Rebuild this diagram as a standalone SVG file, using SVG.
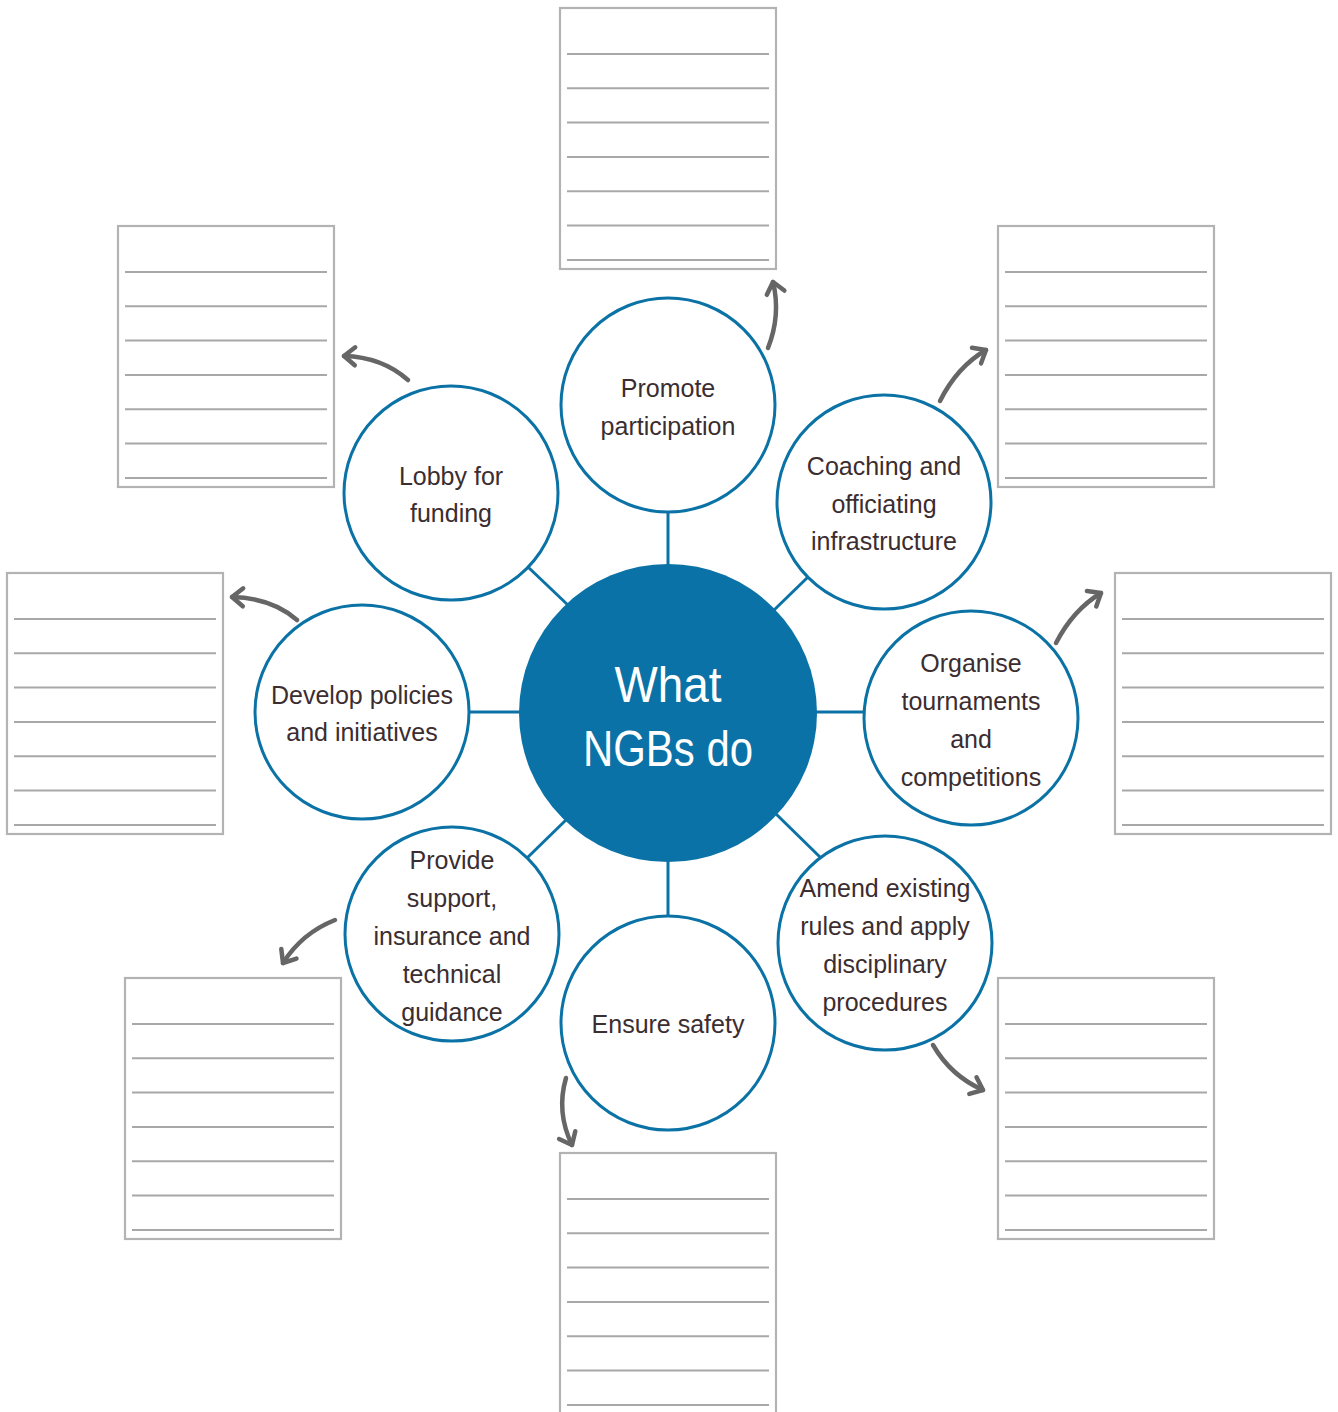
<svg xmlns="http://www.w3.org/2000/svg" xmlns:xlink="http://www.w3.org/1999/xlink" width="1338" height="1412" viewBox="0 0 1338 1412">
<style>
.sheet-box{fill:#fff;stroke:#b3b3b3;stroke-width:2.2}
.sheet-line{stroke:#a8a8a8;stroke-width:2}
.node{fill:#fff;stroke:#0b72a6;stroke-width:3}
.hub{fill:#0a72a6}
.conn{stroke:#0b72a6;stroke-width:3;fill:none}
.arrow{stroke:#666;stroke-width:4.5;fill:none;stroke-linecap:round}
.lbl{font-family:"Liberation Sans",Arial,sans-serif;font-size:25px;fill:#3b2d30;text-anchor:middle}
.hubtxt{font-family:"Liberation Sans",Arial,sans-serif;font-size:50px;fill:#fff;text-anchor:middle}
</style>
<defs>
<marker id="head" markerUnits="userSpaceOnUse" markerWidth="30" markerHeight="30" viewBox="-15 -15 30 30" refX="0" refY="0" orient="auto">
<path d="M-11,-9 L0,0 L-11,9" fill="none" stroke="#666" stroke-width="4.5" stroke-linecap="round" stroke-linejoin="round"/>
</marker>
<g id="sheet">
<rect class="sheet-box" x="0" y="0" width="216" height="261"/>
<line class="sheet-line" x1="7" y1="46" x2="209" y2="46"/>
<line class="sheet-line" x1="7" y1="80.3" x2="209" y2="80.3"/>
<line class="sheet-line" x1="7" y1="114.6" x2="209" y2="114.6"/>
<line class="sheet-line" x1="7" y1="149" x2="209" y2="149"/>
<line class="sheet-line" x1="7" y1="183.3" x2="209" y2="183.3"/>
<line class="sheet-line" x1="7" y1="217.6" x2="209" y2="217.6"/>
<line class="sheet-line" x1="7" y1="252" x2="209" y2="252"/>
</g>
</defs>
<rect width="1338" height="1412" fill="#fff"/>

<g id="sheets">
<use id="sheet-top" xlink:href="#sheet" x="560" y="8"/>
<use id="sheet-upper-left" xlink:href="#sheet" x="118" y="226"/>
<use id="sheet-upper-right" xlink:href="#sheet" x="998" y="226"/>
<use id="sheet-mid-left" xlink:href="#sheet" x="7" y="573"/>
<use id="sheet-mid-right" xlink:href="#sheet" x="1115" y="573"/>
<use id="sheet-lower-left" xlink:href="#sheet" x="125" y="978"/>
<use id="sheet-lower-right" xlink:href="#sheet" x="998" y="978"/>
<use id="sheet-bottom" xlink:href="#sheet" x="560" y="1153"/>
</g>

<g id="connectors">
<line class="conn" x1="668" y1="512" x2="668" y2="566"/>
<line class="conn" x1="668" y1="860" x2="668" y2="917"/>
<line class="conn" x1="469" y1="712" x2="521" y2="712"/>
<line class="conn" x1="815" y1="712" x2="865" y2="712"/>
<line class="conn" x1="528" y1="567" x2="570" y2="607"/>
<line class="conn" x1="808" y1="577" x2="772" y2="612"/>
<line class="conn" x1="526" y1="859" x2="568" y2="818"/>
<line class="conn" x1="774" y1="812" x2="822" y2="859"/>
<path class="arrow" marker-end="url(#head)" d="M768,348 Q781,315 773,282"/>
<path class="arrow" marker-end="url(#head)" d="M408,380 Q382,357 344,356"/>
<path class="arrow" marker-end="url(#head)" d="M940,401 Q957,367 986,350"/>
<path class="arrow" marker-end="url(#head)" d="M1056,643 Q1073,610 1101,593"/>
<path class="arrow" marker-end="url(#head)" d="M297,620 Q272,598 232,597"/>
<path class="arrow" marker-end="url(#head)" d="M335,920 Q302,933 283,963"/>
<path class="arrow" marker-end="url(#head)" d="M566,1078 Q556,1112 572,1145"/>
<path class="arrow" marker-end="url(#head)" d="M933,1045 Q951,1076 983,1090"/>
</g>

<g id="hub">
<circle class="hub" cx="668" cy="713" r="149"/>
<text class="hubtxt" x="668" y="702" textLength="107" lengthAdjust="spacingAndGlyphs">What</text>
<text class="hubtxt" x="668" y="766" textLength="170" lengthAdjust="spacingAndGlyphs">NGBs do</text>
</g>

<g id="node-promote">
<circle class="node" cx="668" cy="405" r="107"/>
<text class="lbl" x="668" y="397">Promote</text>
<text class="lbl" x="668" y="435">participation</text>
</g>

<g id="node-lobby">
<circle class="node" cx="451" cy="493" r="107"/>
<text class="lbl" x="451" y="485">Lobby for</text>
<text class="lbl" x="451" y="522">funding</text>
</g>

<g id="node-coaching">
<circle class="node" cx="884" cy="502" r="107"/>
<text class="lbl" x="884" y="475">Coaching and</text>
<text class="lbl" x="884" y="513">officiating</text>
<text class="lbl" x="884" y="550">infrastructure</text>
</g>

<g id="node-develop">
<circle class="node" cx="362" cy="712" r="107"/>
<text class="lbl" x="362" y="704">Develop policies</text>
<text class="lbl" x="362" y="741">and initiatives</text>
</g>

<g id="node-organise">
<circle class="node" cx="971" cy="718" r="107"/>
<text class="lbl" x="971" y="672">Organise</text>
<text class="lbl" x="971" y="710">tournaments</text>
<text class="lbl" x="971" y="748">and</text>
<text class="lbl" x="971" y="786">competitions</text>
</g>

<g id="node-provide">
<circle class="node" cx="452" cy="934" r="107"/>
<text class="lbl" x="452" y="869">Provide</text>
<text class="lbl" x="452" y="907">support,</text>
<text class="lbl" x="452" y="945">insurance and</text>
<text class="lbl" x="452" y="983">technical</text>
<text class="lbl" x="452" y="1021">guidance</text>
</g>

<g id="node-ensure">
<circle class="node" cx="668" cy="1023" r="107"/>
<text class="lbl" x="668" y="1033">Ensure safety</text>
</g>

<g id="node-amend">
<circle class="node" cx="885" cy="943" r="107"/>
<text class="lbl" x="885" y="897">Amend existing</text>
<text class="lbl" x="885" y="935">rules and apply</text>
<text class="lbl" x="885" y="973">disciplinary</text>
<text class="lbl" x="885" y="1011">procedures</text>
</g>
</svg>
